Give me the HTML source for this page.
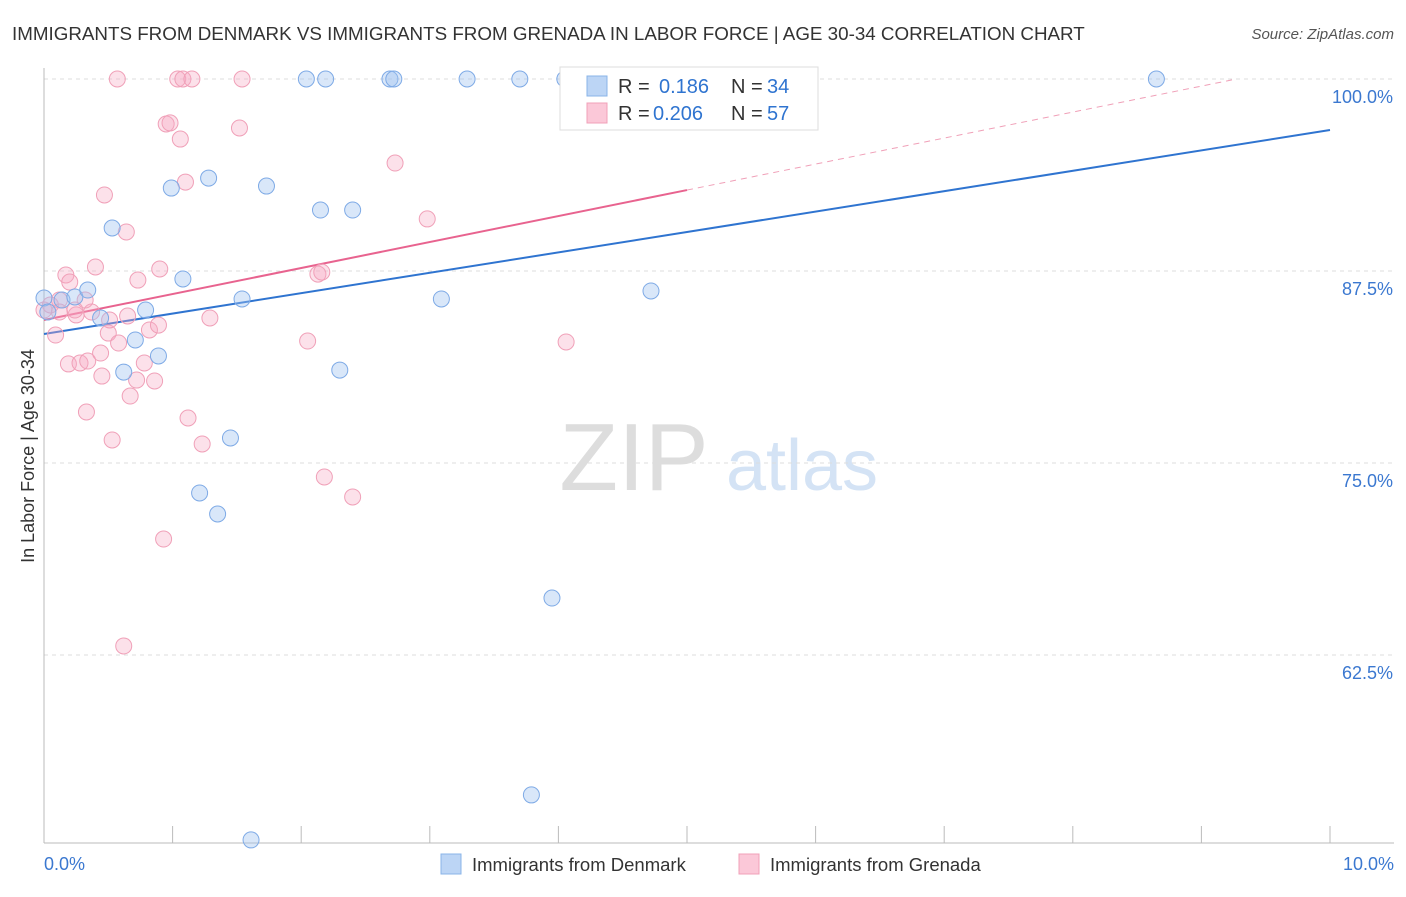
<!DOCTYPE html>
<html><head><meta charset="utf-8"><style>
body{margin:0;background:#fff;font-family:"Liberation Sans",sans-serif;}
svg text{font-family:"Liberation Sans",sans-serif;}
</style></head><body>
<svg width="1406" height="892" id="chart">
<text x="12" y="40" font-size="18.8" fill="#333">IMMIGRANTS FROM DENMARK VS IMMIGRANTS FROM GRENADA IN LABOR FORCE | AGE 30-34 CORRELATION CHART</text>
<text x="1394" y="39" font-size="15" fill="#555" font-style="italic" text-anchor="end">Source: ZipAtlas.com</text>
<text x="634" y="490" font-size="96" fill="#ddd" font-family="Liberation Serif" text-anchor="middle">ZIP</text>
<text x="802" y="490" font-size="72" fill="#d4e3f5" text-anchor="middle">atlas</text>
<text transform="translate(34,456) rotate(-90)" font-size="18" fill="#333" text-anchor="middle">In Labor Force | Age 30-34</text>
<g id="grid"></g><g id="axes"></g><g id="trends"></g><g id="pts"></g>
<g>
<rect x="560" y="67" width="258" height="63" fill="#fff" stroke="#ddd"/>
<rect x="587" y="76" width="20" height="20" fill="#bcd5f5" stroke="#8ab4e8"/>
<rect x="587" y="103" width="20" height="20" fill="#fbc8d8" stroke="#f0a0b8"/>
<text x="618" y="93" font-size="20" fill="#333">R =</text>
<text x="659" y="93" font-size="20" fill="#2f74d0">0.186</text>
<text x="731" y="93" font-size="20" fill="#333">N =</text>
<text x="767" y="93" font-size="20" fill="#2f74d0">34</text>
<text x="618" y="120" font-size="20" fill="#333">R =</text>
<text x="653" y="120" font-size="20" fill="#2f74d0">0.206</text>
<text x="731" y="120" font-size="20" fill="#333">N =</text>
<text x="767" y="120" font-size="20" fill="#2f74d0">57</text>
</g>
<g>
<rect x="441" y="854" width="20" height="20" fill="#bcd5f5" stroke="#8ab4e8"/>
<text x="472" y="871" font-size="18.5" fill="#333">Immigrants from Denmark</text>
<rect x="739" y="854" width="20" height="20" fill="#fbc8d8" stroke="#f0a0b8"/>
<text x="770" y="871" font-size="18.5" fill="#333">Immigrants from Grenada</text>
</g>
</svg>
<script>
const blueX=[0,0.03,0.14,0.24,0.34,0.44,0.53,0.62,0.71,0.79,0.89,0.99,1.08,1.28,1.21,1.35,1.45,1.54,1.61,1.73,2.04,2.15,2.19,2.30,2.40,2.69,2.72,3.09,3.29,3.70,3.79,3.95,4.05,4.72,8.65];
const blueY=[85.74,84.83,85.61,85.81,86.26,84.44,90.30,80.92,83.01,84.96,81.97,92.90,86.98,93.55,73.05,71.68,76.63,85.68,50.46,93.03,100,91.47,100,81.05,91.47,100,100,85.68,100,100,53.39,66.21,100,86.20,100];
const pinkX=[0,.05,.09,.12,.17,.19,.20,.25,.28,.33,.34,.37,.40,.44,.45,.47,.50,.53,.57,.58,.62,.64,.65,.67,.72,.73,.78,.82,.86,.89,.90,.93,.95,.98,1.06,1.04,1.08,1.10,1.12,1.15,1.23,1.29,1.52,1.54,2.05,2.13,2.16,2.18,2.40,2.73,2.98,4.06,4.73,.51,.24,.12,.32];
const pinkY=[84.96,85.29,83.33,85.61,87.24,81.45,86.78,84.64,81.51,78.32,81.64,84.83,87.76,82.16,80.66,92.45,83.46,76.50,100,82.81,63.09,90.04,84.57,79.36,80.40,86.91,81.51,83.66,80.34,83.98,87.63,70.05,97.07,97.14,96.09,100,100,93.29,77.93,100,76.24,84.44,96.81,100,82.94,87.30,87.43,74.09,72.79,94.53,90.89,82.88,100,84.31,84.96,84.83,85.61];
const yTicks=[100,87.5,75,62.5];
const yTickLabels=["100.0%","87.5%","75.0%","62.5%"];
const blueTrend=[83.40,96.68];
const pinkTrend=[84.31,92.77];
const NS="http://www.w3.org/2000/svg";
const xs=v=>44+v*128.6, ys=v=>79+(100-v)*15.36;
function mk(t,a,p){const e=document.createElementNS(NS,t);for(const k in a)e.setAttribute(k,a[k]);p.appendChild(e);return e;}
const grid=document.getElementById('grid'),axes=document.getElementById('axes'),tr=document.getElementById('trends'),pts=document.getElementById('pts');
yTicks.forEach((v,i)=>{
 const l=mk('line',{x1:44,x2:1394,y1:ys(v),y2:ys(v),stroke:'#ddd','stroke-dasharray':'4,4'},grid);
 
 
 const t=mk('text',{x:1393,y:ys(v)+24,'font-size':18,fill:'#3b78d0','text-anchor':'end'},grid);
 t.textContent=yTickLabels[i];
 
 
});
let a=mk('line',{x1:44,x2:44,y1:68,y2:843,stroke:'#bbb'},axes);


a=mk('line',{x1:44,x2:1394,y1:843,y2:843,stroke:'#bbb'},axes);


for(let i=0;i<=10;i++){const t=mk('line',{x1:xs(i),x2:xs(i),y1:826,y2:843,stroke:'#bbb'},axes);
 
 }
let t=mk('text',{x:44,y:870,'font-size':18,fill:'#3b78d0'},axes);t.textContent='0.0%';


t=mk('text',{x:1394,y:870,'font-size':18,fill:'#3b78d0','text-anchor':'end'},axes);t.textContent='10.0%';


function dots(X,Y,fill,stroke,name){X.forEach((x,i)=>{const c=mk('circle',{cx:xs(x),cy:ys(Y[i]),r:8,fill:fill,stroke:stroke,'stroke-width':1},pts);
 
 });}
dots(pinkX,pinkY,'rgba(245,170,195,0.35)','#f0a0b8','grenada-point');
dots(blueX,blueY,'rgba(160,196,240,0.4)','#7eaae6','denmark-point');
let L=mk('line',{x1:xs(0),y1:ys(blueTrend[0]),x2:xs(10),y2:ys(blueTrend[1]),stroke:'#2f74d0','stroke-width':2},tr);


const ps=(pinkTrend[1]-pinkTrend[0])/5;
L=mk('line',{x1:xs(0),y1:ys(pinkTrend[0]),x2:xs(5),y2:ys(pinkTrend[1]),stroke:'#e8638f','stroke-width':2},tr);


const xe=(100-pinkTrend[0])/ps;
L=mk('line',{x1:xs(5),y1:ys(pinkTrend[1]),x2:xs(xe),y2:ys(100),stroke:'#f0a0b8','stroke-width':1,'stroke-dasharray':'6,5'},tr);


</script>
</body></html>
